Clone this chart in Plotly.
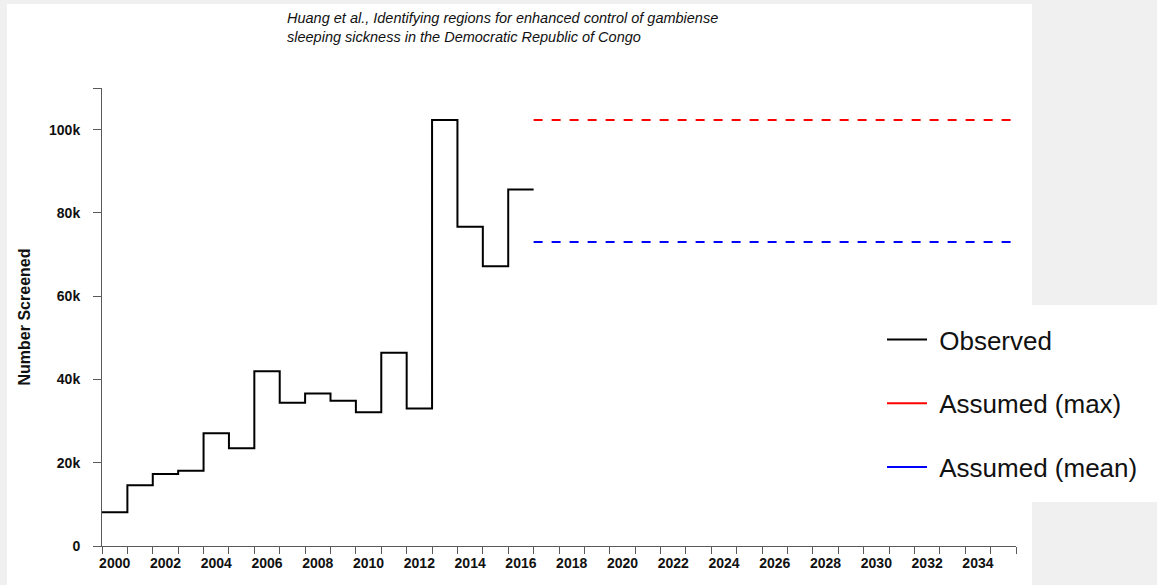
import plotly.graph_objects as go

# Observed annual screening totals (one step per year)
years = list(range(2000, 2017))
screened = [8100, 14600, 17300, 18100, 27100, 23500, 42000, 34400, 36600,
            34900, 32100, 46400, 33000, 102300, 76700, 67200, 85600]

# Assumed future screening levels
assumed_max = 102300
assumed_mean = 73000
proj_years = [2017, 2036]

# Axis ticks and labels
x_bounds = list(range(2000, 2037))
x_label_years = list(range(2000, 2035, 2))
y_tick_vals = [0, 20000, 40000, 60000, 80000, 100000, 110000]
y_tick_text = ["0", "20k", "40k", "60k", "80k", "100k", ""]

FIG_W, FIG_H = 1157, 585
ML, MR, MT, MB = 102, 141, 88, 39
PW = FIG_W - ML - MR
PH = FIG_H - MT - MB


def px_x(px):
    return (px - ML) / PW


def px_y(py):
    return (FIG_H - MB - py) / PH


AXIS_GREY = "#5a5a5a"
FONT = "Liberation Sans, Arial, sans-serif"

fig = go.Figure()

# Observed step line: each value spans its year [year, year + 1]
step_x = years + [years[-1] + 1]
step_y = screened + [screened[-1]]
fig.add_trace(go.Scatter(x=step_x, y=step_y, mode="lines",
                         line=dict(color="black", width=2, shape="hv"),
                         showlegend=False, hoverinfo="skip"))

for val, col in [(assumed_max, "#ff0000"), (assumed_mean, "#0000ff")]:
    fig.add_trace(go.Scatter(x=proj_years, y=[val, val], mode="lines",
                             line=dict(color=col, width=2, dash="9px,9px"),
                             showlegend=False, hoverinfo="skip"))

# Legend entries with solid swatches
for i, (name, col) in enumerate([("Observed", "black"),
                                 ("Assumed (max)", "#ff0000"),
                                 ("Assumed (mean)", "#0000ff")]):
    fig.add_trace(go.Scatter(x=[None], y=[None], mode="lines",
                             name="\u00a0" + name,
                             legendgroup=f"g{i}",
                             line=dict(color=col, width=2)))

shapes = [
    # white page panels on the grey background
    dict(type="rect", xref="paper", yref="paper", layer="below",
         x0=px_x(7), x1=px_x(1032), y0=px_y(FIG_H + 5), y1=px_y(4),
         fillcolor="white", line=dict(width=0)),
    dict(type="rect", xref="paper", yref="paper", layer="below",
         x0=px_x(1031), x1=px_x(FIG_W + 5), y0=px_y(502), y1=px_y(305),
         fillcolor="white", line=dict(width=0)),
]

annotations = [
    dict(xref="paper", yref="paper", x=px_x(285), y=px_y(18), xanchor="left",
         yanchor="middle", showarrow=False, align="left",
         text="Huang et al., Identifying regions for enhanced control of gambiense",
         font=dict(family=FONT, size=14.5, color="#111", style="italic")),
    dict(xref="paper", yref="paper", x=px_x(285), y=px_y(37), xanchor="left",
         yanchor="middle", showarrow=False, align="left",
         text="sleeping sickness in the Democratic Republic of Congo",
         font=dict(family=FONT, size=14.5, color="#111", style="italic")),
]

fig.update_layout(
    width=FIG_W, height=FIG_H,
    margin=dict(l=ML, r=MR, t=MT, b=MB, pad=0),
    paper_bgcolor="#f0f0f0",
    plot_bgcolor="rgba(0,0,0,0)",
    shapes=shapes,
    annotations=annotations,
    showlegend=True,
    legend=dict(x=px_x(882), y=px_y(316), xanchor="left", yanchor="top",
                bgcolor="rgba(0,0,0,0)", traceorder="grouped",
                tracegroupgap=27, itemwidth=40,
                font=dict(family=FONT, size=26, color="#111")),
    xaxis=dict(range=[2000, 2036], showgrid=False, zeroline=False,
               showline=True, linecolor=AXIS_GREY, linewidth=1,
               tickmode="array", tickvals=[y + 0.5 for y in x_label_years],
               ticktext=[str(y) for y in x_label_years], ticks="",
               ticklabelstandoff=4,
               tickfont=dict(family=FONT, size=14, color="#111", weight="bold"),
               minor=dict(tickmode="array", tickvals=x_bounds, ticks="outside",
                          ticklen=7, tickwidth=1, tickcolor=AXIS_GREY,
                          showgrid=False)),
    yaxis=dict(range=[0, 110000], showgrid=False, zeroline=False,
               showline=True, linecolor=AXIS_GREY, linewidth=1,
               tickmode="array", tickvals=y_tick_vals, ticktext=y_tick_text,
               ticks="outside", ticklen=8, tickwidth=1, tickcolor=AXIS_GREY,
               ticklabelstandoff=10,
               tickfont=dict(family=FONT, size=14, color="#111", weight="bold"),
               title=dict(text="Number Screened", standoff=14,
                          font=dict(family=FONT, size=16, color="#111",
                                    weight="bold"))),
)

fig.write_html("out.html")
